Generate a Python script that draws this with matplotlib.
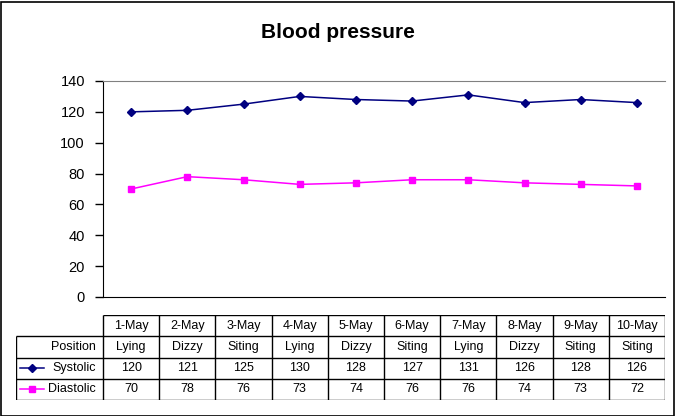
import matplotlib
matplotlib.use('Agg')
import matplotlib.pyplot as plt
from matplotlib.patches import Rectangle

plt.rcParams['font.family'] = ['Liberation Sans', 'DejaVu Sans']

dates = ['1-May', '2-May', '3-May', '4-May', '5-May', '6-May', '7-May', '8-May', '9-May', '10-May']
position = ['Lying', 'Dizzy', 'Siting', 'Lying', 'Dizzy', 'Siting', 'Lying', 'Dizzy', 'Siting', 'Siting']
systolic = [120, 121, 125, 130, 128, 127, 131, 126, 128, 126]
diastolic = [70, 78, 76, 73, 74, 76, 76, 74, 73, 72]

W, H = 675, 416
fig = plt.figure(figsize=(W / 100, H / 100), dpi=100)
fig.patch.set_facecolor('white')
fig.patches.append(Rectangle((0.5 / W, 0.5 / H), (W - 2) / W, (H - 2) / H, transform=fig.transFigure,
                             fill=False, edgecolor='black', linewidth=1.2))

# plot area in pixels
L, R, T, B = 103, 665, 81, 297
ax = fig.add_axes([L / W, 1 - B / H, (R - L) / W, (B - T) / H])
x = list(range(len(dates)))
ax.plot(x, systolic, color='#000080', marker='D', markersize=4.5, linewidth=1.1)
ax.plot(x, diastolic, color='#FF00FF', marker='s', markersize=4.5, linewidth=1.1)
ax.set_xlim(-0.5, len(dates) - 0.5)
ax.set_ylim(0, 140)
ax.set_yticks(range(0, 141, 20))
ax.set_xticks([])
ax.tick_params(axis='y', direction='out', length=6, width=1, labelsize=10.5, pad=7)
ax.spines['right'].set_visible(False)
ax.spines['top'].set_color('#808080')
for s in ['left', 'bottom']:
    ax.spines[s].set_color('black')

fig.text(338 / W, 1 - 32 / H, 'Blood pressure', ha='center', va='center', fontsize=15, fontweight='bold')

# data table below
unit = (R - L) / len(dates)
xl = -0.5 - (L - 16) / unit
tab = fig.add_axes([16 / W, 1 - 400 / H, (R - 16) / W, (400 - 315) / H])
tab.set_xlim(xl, len(dates) - 0.5)
tab.set_ylim(4, 0)
tab.axis('off')
n = len(dates)
tab.hlines(0, -0.5, n - 0.5, color='black', linewidth=1)
tab.hlines([1, 2, 3, 4], xl, n - 0.5, color='black', linewidth=1)
tab.vlines([i - 0.5 for i in range(n + 1)], 0, 4, color='black', linewidth=1)
tab.vlines(xl, 1, 4, color='black', linewidth=1)

fs = 9
for i in range(n):
    tab.text(i, 0.5, dates[i], ha='center', va='center', fontsize=fs)
    tab.text(i, 1.5, position[i], ha='center', va='center', fontsize=fs)
    tab.text(i, 2.5, str(systolic[i]), ha='center', va='center', fontsize=fs)
    tab.text(i, 3.5, str(diastolic[i]), ha='center', va='center', fontsize=fs)

lx = -0.5 - 7 / unit
tab.text(lx, 1.5, 'Position', ha='right', va='center', fontsize=fs)
tab.text(lx, 2.5, 'Systolic', ha='right', va='center', fontsize=fs)
tab.text(lx, 3.5, 'Diastolic', ha='right', va='center', fontsize=fs)
k0, k1 = xl + 4 / unit, xl + 28 / unit
tab.plot([k0, k1], [2.5, 2.5], color='#000080', linewidth=1.1)
tab.plot([(k0 + k1) / 2], [2.5], color='#000080', marker='D', markersize=4.5)
tab.plot([k0, k1], [3.5, 3.5], color='#FF00FF', linewidth=1.1)
tab.plot([(k0 + k1) / 2], [3.5], color='#FF00FF', marker='s', markersize=4.5)

fig.savefig('out.png', dpi=100)
